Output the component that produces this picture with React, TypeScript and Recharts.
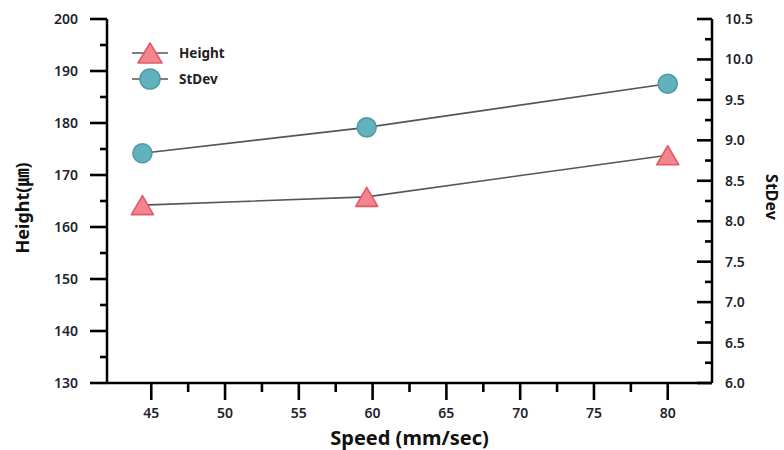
import React from 'react';
import { ComposedChart, Line, XAxis, YAxis, Legend } from 'recharts';

// ---- data ----
const speeds = [44.4, 59.6, 80];
const heights = [164.2, 165.8, 173.8];
const stdevs = [8.84, 9.16, 9.7];

const speedTicks = [45, 47.5, 50, 52.5, 55, 57.5, 60, 62.5, 65, 67.5, 70, 72.5, 75, 77.5, 80];
const heightTicks = [130, 135, 140, 145, 150, 155, 160, 165, 170, 175, 180, 185, 190, 195, 200];
const stdevTicks = [6, 6.25, 6.5, 6.75, 7, 7.25, 7.5, 7.75, 8, 8.25, 8.5, 8.75, 9, 9.25, 9.5, 9.75, 10, 10.25, 10.5];

const data = speeds.map((s, i) => ({ speed: s, height: heights[i], stdev: stdevs[i] }));

const FONT = '"Noto Sans", "Noto Sans CJK KR", sans-serif';
const LABEL_COLOR = '#1f1f2e';
const LINE_COLOR = '#555555';
const TRI_FILL = '#f2858d';
const TRI_STROKE = '#e35a68';
const CIR_FILL = '#62b2bd';
const CIR_STROKE = '#4d9ba6';
const TICK_W = 2.6;

const Triangle = ({ cx, cy, w = 22, h = 19 }: any) => (
  <polygon
    points={`${cx},${cy - h / 2} ${cx + w / 2},${cy + h / 2} ${cx - w / 2},${cy + h / 2}`}
    fill={TRI_FILL}
    stroke={TRI_STROKE}
    strokeWidth={1.6}
    strokeLinejoin="round"
  />
);
const Circle = ({ cx, cy, r = 9.5 }: any) => (
  <circle cx={cx} cy={cy} r={r} fill={CIR_FILL} stroke={CIR_STROKE} strokeWidth={1.6} />
);

// ---- ticks ----
const LeftTick = (props: any) => {
  const { x, y, payload } = props;
  const major = payload.value % 10 === 0;
  return (
    <g>
      <line x1={x - (major ? 17 : 7)} x2={x} y1={y} y2={y} stroke="#000" strokeWidth={TICK_W} />
      {major && (
        <text x={x - 29} y={y} dy={5} textAnchor="end" fontSize={14} fontWeight={600} fontFamily={FONT} fill={LABEL_COLOR}>
          {payload.value}
        </text>
      )}
    </g>
  );
};

const RightTick = (props: any) => {
  const { x, y, payload } = props;
  const v = payload.value;
  const major = Math.abs(v * 2 - Math.round(v * 2)) < 1e-6;
  return (
    <g>
      <line x1={x - (major ? 15 : 7)} x2={x} y1={y} y2={y} stroke="#000" strokeWidth={TICK_W} />
      {major && (
        <text x={x + 13} y={y} dy={5} textAnchor="start" fontSize={14} fontWeight={600} fontFamily={FONT} fill={LABEL_COLOR}>
          {v.toFixed(1)}
        </text>
      )}
    </g>
  );
};

const BottomTick = (props: any) => {
  const { x, y, payload } = props;
  const major = payload.value % 5 === 0;
  return (
    <g>
      <line x1={x} x2={x} y1={y} y2={y + (major ? 17 : 9)} stroke="#000" strokeWidth={TICK_W} />
      {major && (
        <text x={x} y={y + 35} textAnchor="middle" fontSize={14} fontWeight={600} fontFamily={FONT} fill={LABEL_COLOR}>
          {payload.value}
        </text>
      )}
    </g>
  );
};

const TopTick = (props: any) => {
  const { x, y, payload } = props;
  const major = payload.value % 5 === 0;
  return <line x1={x} x2={x} y1={y} y2={y + (major ? 17 : 9)} stroke="#000" strokeWidth={TICK_W} />;
};

// ---- titles ----
const leftTitle = (p: any) => {
  const vb = p.viewBox;
  const cx = vb.x + 22;
  const cy = vb.y + vb.height / 2 + 7;
  return (
    <text x={cx} y={cy} transform={`rotate(-90 ${cx} ${cy})`} textAnchor="middle" dominantBaseline="central"
      fontSize={18} fontWeight="bold" fontFamily={FONT} fill="#111">
      Height(㎛)
    </text>
  );
};
const rightTitle = (p: any) => {
  const vb = p.viewBox;
  const cx = vb.x + 60;
  const cy = vb.y + vb.height / 2 - 4;
  return (
    <text x={cx} y={cy} transform={`rotate(90 ${cx} ${cy})`} textAnchor="middle" dominantBaseline="central"
      fontSize={16} fontWeight="bold" fontFamily={FONT} fill="#111">
      StDev
    </text>
  );
};
const bottomTitle = (p: any) => {
  const vb = p.viewBox;
  return (
    <text x={vb.x + vb.width / 2} y={vb.y + 54} textAnchor="middle" dominantBaseline="central"
      fontSize={20} fontWeight="bold" fontFamily={FONT} fill="#111">
      Speed (mm/sec)
    </text>
  );
};

// ---- legend ----
const renderLegend = (props: any) => {
  const { payload = [] } = props;
  return (
    <div style={{ fontFamily: FONT }}>
      {payload.map((entry: any) => (
        <div key={entry.value} style={{ display: 'flex', alignItems: 'center', height: 26 }}>
          <svg width={40} height={26} style={{ display: 'block' }}>
            <line x1={2} x2={38} y1={13} y2={13} stroke={LINE_COLOR} strokeWidth={1.6} />
            {entry.dataKey === 'height' ? <Triangle cx={20} cy={13} w={24} h={20} /> : <Circle cx={20} cy={13} r={10} />}
          </svg>
          <span style={{ marginLeft: 9, fontSize: 13.5, fontWeight: 'bold', color: '#222' }}>{entry.value}</span>
        </div>
      ))}
    </div>
  );
};

export default function App() {
  return (
    <div style={{ position: 'absolute', left: 0, top: 0, background: '#fff' }}>
      <ComposedChart width={784} height={450} data={data} margin={{ top: 19, right: 0, bottom: 0, left: 0 }}>
        <XAxis
          dataKey="speed"
          type="number"
          xAxisId="bottom"
          domain={[42, 83]}
          ticks={speedTicks}
          interval={0}
          height={67}
          tickSize={0}
          tickMargin={0}
          tickLine={false}
          tick={<BottomTick />}
          axisLine={{ stroke: '#000', strokeWidth: 2.5 }}
          label={bottomTitle}
        />
        <XAxis
          dataKey="speed"
          type="number"
          xAxisId="top"
          orientation="top"
          domain={[42, 83]}
          ticks={speedTicks}
          interval={0}
          height={0}
          tickSize={0}
          tickMargin={0}
          tickLine={false}
          tick={<TopTick />}
          axisLine={{ stroke: '#000', strokeWidth: 2.5 }}
        />
        <YAxis
          yAxisId="left"
          orientation="left"
          domain={[130, 200]}
          ticks={heightTicks}
          interval={0}
          width={107}
          tickSize={0}
          tickMargin={0}
          tickLine={false}
          tick={<LeftTick />}
          axisLine={{ stroke: '#000', strokeWidth: 2.5 }}
          label={leftTitle}
        />
        <YAxis
          yAxisId="right"
          orientation="right"
          domain={[6, 10.5]}
          ticks={stdevTicks}
          interval={0}
          width={72}
          tickSize={0}
          tickMargin={0}
          tickLine={false}
          tick={<RightTick />}
          axisLine={{ stroke: '#000', strokeWidth: 2.5 }}
          label={rightTitle}
        />
        <Legend
          layout="vertical"
          align="center"
          verticalAlign="middle"
          content={renderLegend}
          wrapperStyle={{ left: 130, top: 40, width: 140 }}
        />
        <Line
          name="Height"
          dataKey="height"
          xAxisId="bottom"
          yAxisId="left"
          stroke={LINE_COLOR}
          strokeWidth={1.6}
          isAnimationActive={false}
          activeDot={false}
          dot={(p: any) => <Triangle key={`t-${p.index}`} cx={p.cx} cy={p.cy} />}
        />
        <Line
          name="StDev"
          dataKey="stdev"
          xAxisId="bottom"
          yAxisId="right"
          stroke={LINE_COLOR}
          strokeWidth={1.6}
          isAnimationActive={false}
          activeDot={false}
          dot={(p: any) => <Circle key={`c-${p.index}`} cx={p.cx} cy={p.cy} />}
        />
      </ComposedChart>
    </div>
  );
}
